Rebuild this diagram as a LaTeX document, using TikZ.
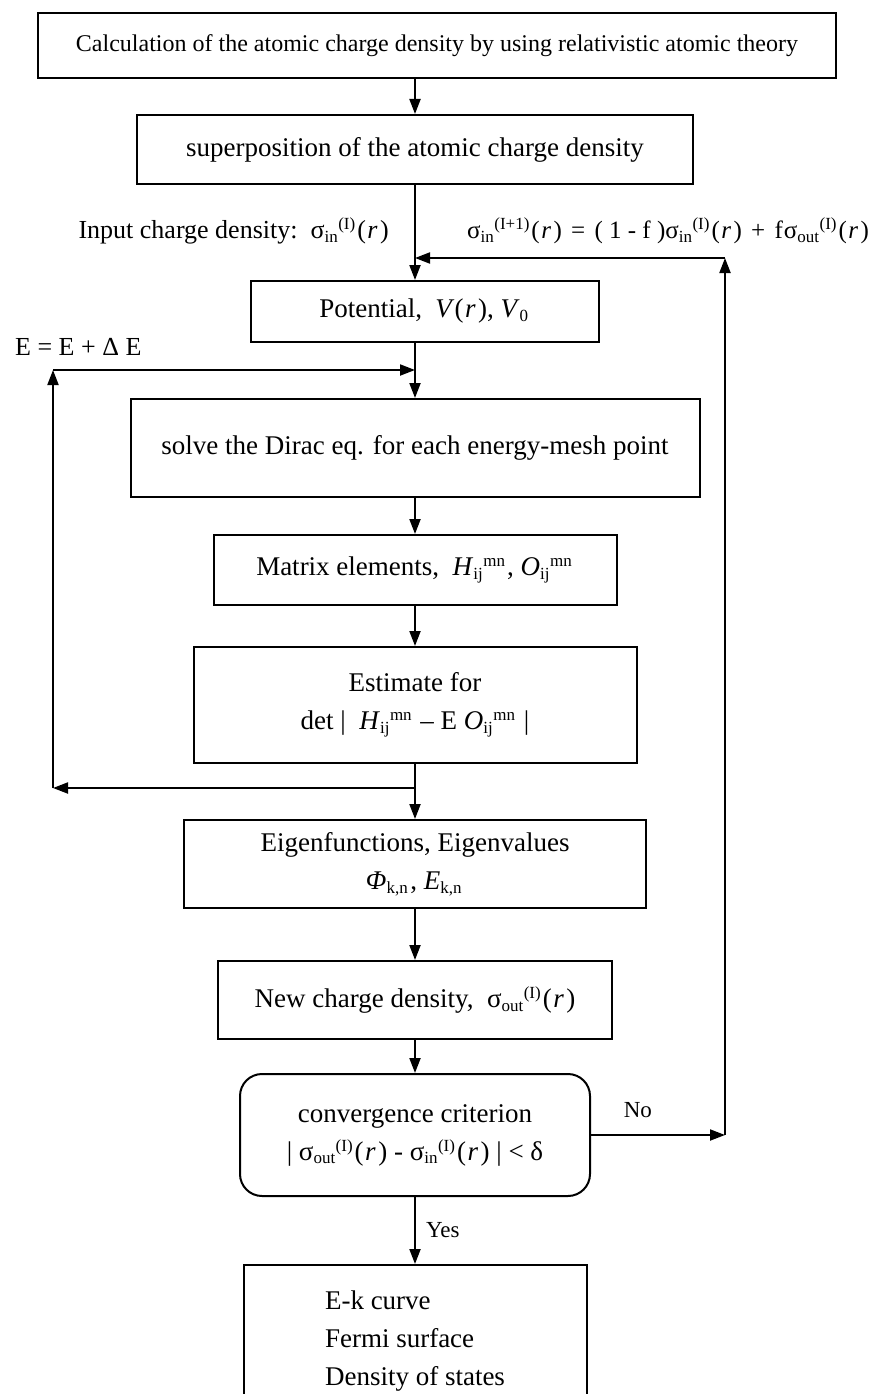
\documentclass[tikz,border=0pt]{standalone}
\usepackage{fontspec}
\setmainfont{Liberation Serif}
\usepackage{amsmath}
\usetikzlibrary{arrows.meta, positioning}
\newcommand{\ix}[2]{$_{\text{\fontsize{17}{17}\selectfont #1}}{}^{\text{\fontsize{17}{17}\selectfont #2}}$\kern1.5pt\relax}
\newcommand{\sgm}[2]{σ\ix{#1}{#2}}
\newcommand{\rr}{(\kern1.5pt\textit{r}\kern2.5pt)}

\begin{document}
\begin{tikzpicture}[
  x=1pt, y=1pt,
  node distance=35pt,
  p/.style={rectangle, draw, line width=2pt, align=center, font=\fontsize{27}{38}\selectfont},
  rp/.style={p, rounded corners=22pt},
  arr/.style={-{Triangle[length=15pt, width=11pt]}, line width=2pt},
  lbl/.style={font=\fontsize{25}{30}\selectfont, inner sep=0pt}
]
\useasboundingbox (0,0) rectangle (872,-1394);
\node[p, minimum width=798pt, minimum height=65pt, font=\fontsize{24}{30}\selectfont] (calc) at (437,-45.5) {Calculation of the atomic charge density by using relativistic atomic theory};
\node[p, below=35pt of calc, xshift=-22pt, minimum width=556pt, minimum height=69pt] (sup) {superposition of the atomic charge density};
\node[p, below=95pt of sup, xshift=10pt, minimum width=348pt, minimum height=61pt] (pot) {Potential,\ \ \textit{V}\rr, \textit{V}\ix{0}{}};
\node[p, below=55pt of pot, xshift=-10pt, minimum width=569pt, minimum height=98pt] (solve) {solve the Dirac eq. for each energy-mesh point};
\node[p, below=36pt of solve, minimum width=403pt, minimum height=70pt] (mat) {Matrix elements,\ \ \textit{H}\ix{ij}{mn}, \textit{O}\ix{ij}{mn}};
\node[p, below=40pt of mat, minimum width=443pt, minimum height=116pt] (est) {Estimate for\\ det |\ \ \textit{H}\ix{ij}{mn} -- E \textit{O}\ix{ij}{mn} |};
\node[p, below=55pt of est, minimum width=462pt, minimum height=88pt] (eig) {Eigenfunctions, Eigenvalues\\ \textit{Φ}\ix{k,n}{}, \textit{E}\ix{k,n}{}};
\node[p, below=51pt of eig, minimum width=394pt, minimum height=78pt] (newc) {New charge density,\ \ \sgm{out}{(I)}\rr};
\node[rp, below=33pt of newc, minimum width=350pt, minimum height=122pt] (conv) {convergence criterion\\ | \sgm{out}{(I)}\rr\ - \sgm{in}{(I)}\rr\ | < δ};
\node[p, below=67pt of conv, minimum width=343pt, minimum height=180pt, align=left] (res) {E-k curve\\ Fermi surface\\ Density of states\rule[-34pt]{0pt}{34pt}};
% helper points of the two loops
\coordinate (fbin) at ([yshift=-73pt]sup.south);
\coordinate (fbr) at ([xshift=310pt]fbin);
\coordinate (nor) at (conv.east -| fbr);
\coordinate (lpb) at ([yshift=-24pt]est.south);
\coordinate (lpbl) at ([xshift=-362pt]lpb);
\coordinate (lpt) at ([yshift=28pt]solve.north);
\coordinate (lptl) at (lpt -| lpbl);
\node[lbl, anchor=east, font=\fontsize{26}{30}\selectfont] (inp) at ([xshift=-26pt, yshift=27pt]fbin) {Input charge density:\ \ \sgm{in}{(I)}\rr};
\node[lbl, anchor=west] (mix) at ([xshift=52pt, yshift=27pt]fbin) {\sgm{in}{(I+1)}\rr\ \kern3pt=\kern3pt\ ( 1 - f )\sgm{in}{(I)}\rr\ \kern3pt+\kern3pt\ f\kern1pt\sgm{out}{(I)}\rr};
\node[lbl, anchor=west, font=\fontsize{26}{30}\selectfont] (elbl) at ([xshift=-38pt, yshift=23pt]lptl) {E = E + Δ E};
\draw[arr] (calc.south -| sup.north) -- (sup.north);
\draw[arr] (sup.south) -- (sup.south |- pot.north);
\draw[arr] (pot.south -| solve.north) -- (solve.north);
\draw[arr] (solve) -- (mat);
\draw[arr] (mat) -- (est);
\draw[arr] (est) -- (eig);
\draw[arr] (eig) -- (newc);
\draw[arr] (newc) -- (conv);
\draw[arr] (conv) -- node[lbl, right=10pt, font=\fontsize{23}{28}\selectfont]{Yes} (res);
\draw[arr] (conv.east) -- node[lbl, above=16pt, pos=0.35, font=\fontsize{23}{28}\selectfont]{No} (nor);
\draw[arr] (nor) -- (fbr);
\draw[arr] (fbr) -- (fbin);
\draw[arr] (lpb) -- (lpbl);
\draw[arr] (lpbl) -- (lptl);
\draw[arr] (lptl) -- (lpt);
\end{tikzpicture}
\end{document}
